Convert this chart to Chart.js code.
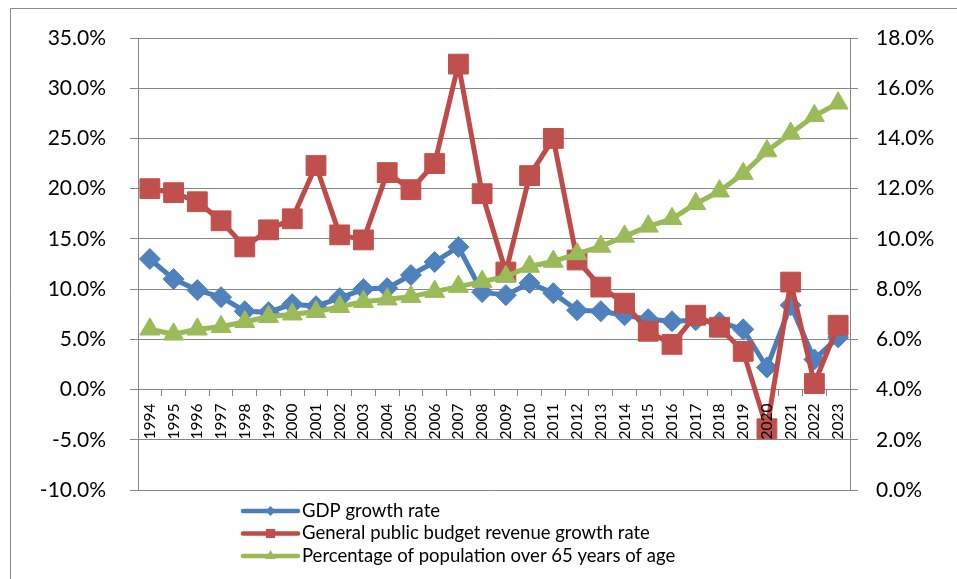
<!DOCTYPE html>
<html>
<head>
<meta charset="utf-8">
<script src="https://cdn.jsdelivr.net/npm/chart.js@4.4.1/dist/chart.umd.min.js"></script>
<style>
  html, body { margin: 0; padding: 0; background: #fff; overflow: hidden; }
  #wrap { position: relative; width: 957px; height: 579px; }
</style>
</head>
<body>
<div id="wrap"><canvas id="chart" width="957" height="579"></canvas></div>
<script>
// Years on the category axis
const years = ['1994','1995','1996','1997','1998','1999','2000','2001','2002','2003',
               '2004','2005','2006','2007','2008','2009','2010','2011','2012','2013',
               '2014','2015','2016','2017','2018','2019','2020','2021','2022','2023'];

// GDP growth rate, % (left axis)
const gdpGrowth = [13.0, 11.0, 9.9, 9.2, 7.8, 7.7, 8.5, 8.3, 9.1, 10.0,
                   10.1, 11.4, 12.7, 14.2, 9.7, 9.4, 10.6, 9.6, 7.9, 7.8,
                   7.4, 7.0, 6.8, 6.9, 6.7, 6.0, 2.2, 8.4, 3.0, 5.2];

// General public budget revenue growth rate, % (left axis)
const revenueGrowth = [20.0, 19.6, 18.7, 16.8, 14.2, 15.9, 17.0, 22.3, 15.4, 14.9,
                       21.6, 19.9, 22.5, 32.4, 19.5, 11.7, 21.3, 25.0, 12.9, 10.2,
                       8.6, 5.8, 4.5, 7.4, 6.2, 3.8, -3.9, 10.7, 0.6, 6.4];

// Share of population aged 65 and over, % (right axis)
const elderlyShare = [6.4, 6.2, 6.4, 6.5, 6.7, 6.9, 7.0, 7.1, 7.3, 7.5,
                      7.6, 7.7, 7.9, 8.1, 8.3, 8.5, 8.9, 9.1, 9.4, 9.7,
                      10.1, 10.5, 10.8, 11.4, 11.9, 12.6, 13.5, 14.2, 14.9, 15.4];

// Series names
const seriesNames = ['GDP growth rate',
                     'General public budget revenue growth rate',
                     'Percentage of population over 65 years of age'];

// Axis ranges
const leftAxis = { min: -10, max: 35, step: 5 };
const rightAxis = { min: 0, max: 18, step: 2 };

const FONT = 'Lato, "Open Sans", "Liberation Sans", sans-serif';
const GRID = '#868686';
const BLUE = '#4A7EBB', RED = '#BE4B48', GREEN = '#98B954';

const pct = v => Number(v).toFixed(1) + '%';

// Outer frame and white background
const framePlugin = {
  id: 'frame',
  beforeDraw(chart) {
    const ctx = chart.ctx;
    ctx.save();
    ctx.fillStyle = '#fff';
    ctx.fillRect(0, 0, chart.width, chart.height);
    ctx.strokeStyle = '#8a8a8a';
    ctx.lineWidth = 1;
    ctx.beginPath();
    ctx.moveTo(10.5, chart.height);
    ctx.lineTo(10.5, 8.5);
    ctx.lineTo(chart.width, 8.5);
    ctx.stroke();
    ctx.restore();
  }
};

// Legend below the plot: a line sample with the series marker, then the name
const lineLegendPlugin = {
  id: 'lineLegend',
  afterDraw(chart) {
    const ctx = chart.ctx;
    const x0 = 243, x1 = 298, textX = 302;
    const top = chart.chartArea.bottom + 21, rowH = 22.5;
    ctx.save();
    chart.data.datasets.forEach((ds, i) => {
      const y = top + i * rowH;
      ctx.strokeStyle = ds.borderColor;
      ctx.lineWidth = 4.5;
      ctx.lineCap = 'round';
      ctx.beginPath();
      ctx.moveTo(x0, y);
      ctx.lineTo(x1, y);
      ctx.stroke();
      ctx.fillStyle = ds.pointBackgroundColor;
      ctx.strokeStyle = ds.pointBackgroundColor;
      Chart.helpers.drawPoint(ctx, { pointStyle: ds.pointStyle, radius: ds.legendMarkerRadius, rotation: 0, borderWidth: 0 },
                              (x0 + x1) / 2, y);
      ctx.fillStyle = '#000';
      ctx.font = '18.5px ' + FONT;
      ctx.textAlign = 'left';
      ctx.textBaseline = 'middle';
      ctx.fillText(ds.label, textX, y);
    });
    ctx.restore();
  }
};

new Chart(document.getElementById('chart'), {
  type: 'line',
  data: {
    labels: years,
    datasets: [
      {
        label: seriesNames[0], data: gdpGrowth, yAxisID: 'y', order: 2,
        borderColor: BLUE, backgroundColor: BLUE, pointBackgroundColor: '#4F81BD',
        pointBorderColor: '#4F81BD', pointBorderWidth: 1,
        borderWidth: 5, pointStyle: 'rectRot', pointRadius: 10.5, legendMarkerRadius: 5
      },
      {
        label: seriesNames[1], data: revenueGrowth, yAxisID: 'y', order: 1,
        borderColor: RED, backgroundColor: RED, pointBackgroundColor: '#C0504D',
        pointBorderColor: '#C0504D', pointBorderWidth: 1,
        borderWidth: 5, pointStyle: 'rect', pointRadius: 14, legendMarkerRadius: 6.5
      },
      {
        label: seriesNames[2], data: elderlyShare, yAxisID: 'y2', order: 0,
        borderColor: GREEN, backgroundColor: GREEN, pointBackgroundColor: '#9BBB59',
        pointBorderColor: '#9BBB59', pointBorderWidth: 1,
        borderWidth: 5, pointStyle: 'triangle', pointRadius: 11.5, legendMarkerRadius: 6
      }
    ]
  },
  options: {
    responsive: false,
    animation: false,
    devicePixelRatio: 1,
    layout: { padding: { top: 38, bottom: 89, left: 0, right: 0 } },
    elements: { line: { tension: 0, borderJoinStyle: 'round', borderCapStyle: 'round' } },
    plugins: { legend: { display: false }, tooltip: { enabled: false } },
    scales: {
      x: {
        type: 'category',
        offset: true,
        position: { y: 0 },
        grid: { offset: true, drawOnChartArea: false, drawTicks: true, tickLength: 6, color: GRID },
        border: { display: true, color: GRID, width: 1 },
        ticks: { autoSkip: false, minRotation: 90, maxRotation: 90, padding: 8, color: '#000', z: 1,
                 font: { family: FONT, size: 15.5 } }
      },
      y: {
        position: 'left',
        min: leftAxis.min, max: leftAxis.max,
        ticks: { stepSize: leftAxis.step, padding: 24, color: '#000', callback: pct,
                 font: { family: FONT, size: 21 } },
        grid: { color: GRID, tickLength: 8 },
        border: { color: GRID },
        afterFit(scale) { scale.width = 138; }
      },
      y2: {
        position: 'right',
        min: rightAxis.min, max: rightAxis.max,
        ticks: { stepSize: rightAxis.step, padding: 18, color: '#000', callback: pct,
                 font: { family: FONT, size: 21 } },
        grid: { drawOnChartArea: false, color: GRID, tickLength: 8 },
        border: { color: GRID },
        afterFit(scale) { scale.width = 107; }
      }
    }
  },
  plugins: [framePlugin, lineLegendPlugin]
});
</script>
</body>
</html>
